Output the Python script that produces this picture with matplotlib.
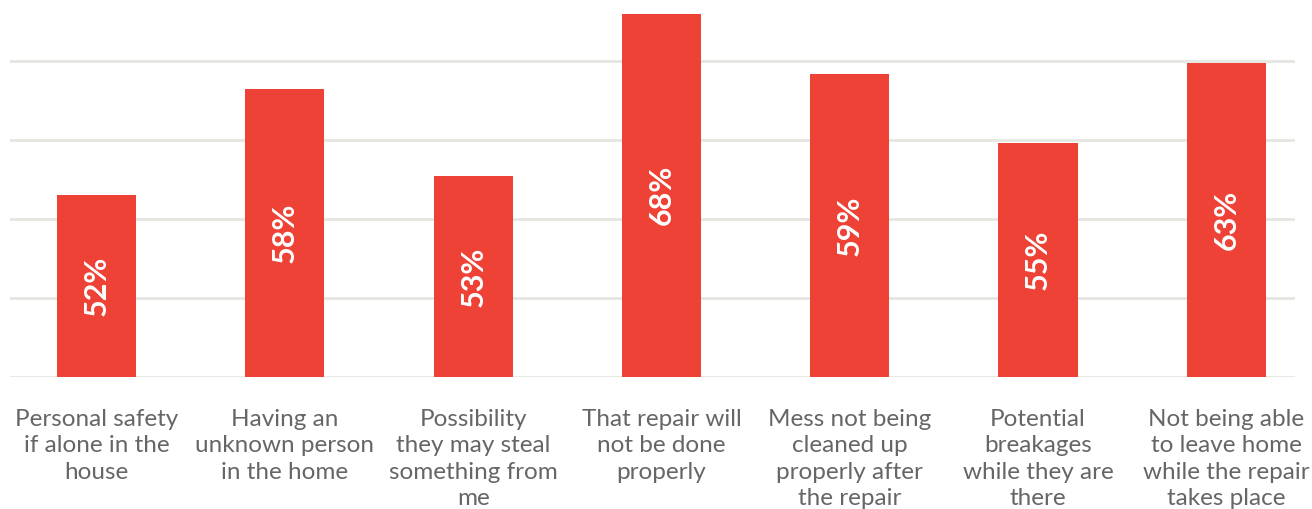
import matplotlib.pyplot as plt

# bar heights (axis starts at 40)
categories = [
    "Personal safety\nif alone in the\nhouse",
    "Having an\nunknown person\nin the home",
    "Possibility\nthey may steal\nsomething from\nme",
    "That repair will\nnot be done\nproperly",
    "Mess not being\ncleaned up\nproperly after\nthe repair",
    "Potential\nbreakages\nwhile they are\nthere",
    "Not being able\nto leave home\nwhile the repair\ntakes place",
]
heights = [51.5, 58.2, 52.7, 63.0, 59.2, 54.8, 59.9]
value_labels = ["52%", "58%", "53%", "68%", "59%", "55%", "63%"]

plt.rcParams['font.family'] = ['Lato', 'DejaVu Sans']

fig = plt.figure(figsize=(13.12, 5.09), dpi=100)
ax = fig.add_axes([10 / 1312, 132 / 509, 1285 / 1312, 377 / 509])

x = list(range(len(categories)))
base = 40
ax.bar(x, [h - base for h in heights], bottom=base, width=0.42,
       color='#ee4237', zorder=3)

for xi, h, lab in zip(x, heights, value_labels):
    ax.text(xi, (base + h) / 2, lab, rotation=90, ha='center', va='center',
            color='white', fontsize=22, fontweight='bold', zorder=4)

ax.set_ylim(base, base + 377 / 79 * 5)
ax.set_xlim(-0.46, 6.365)
ax.set_yticks([40, 45, 50, 55, 60])
ax.yaxis.grid(True, color='#e6e6e1', linewidth=2, zorder=0)
ax.tick_params(axis='y', length=0, labelleft=False)

ax.set_xticks(x)
ax.set_xticklabels(categories, fontsize=17.5, color='#666666', linespacing=1.32)
ax.tick_params(axis='x', length=0, pad=23)

for s in ax.spines.values():
    s.set_visible(False)

fig.savefig('out.png', dpi=100, facecolor='white')
